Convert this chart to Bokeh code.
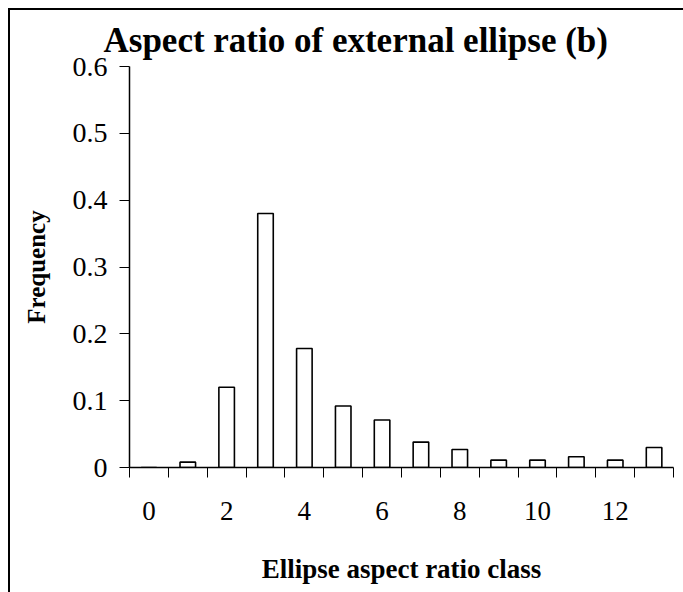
from bokeh.plotting import figure
from bokeh.models import Range1d, FixedTicker, ColumnDataSource
from bokeh.embed import file_html
from bokeh.resources import INLINE

# Data
classes = [0, 1, 2, 3, 4, 5, 6, 7, 8, 9, 10, 11, 12, 13]
frequency = [0.0, 0.008, 0.12, 0.38, 0.178, 0.092, 0.071, 0.038, 0.027, 0.011, 0.011, 0.016, 0.011, 0.03]
x_label_ticks = [0, 2, 4, 6, 8, 10, 12]
y_ticks = [0, 0.1, 0.2, 0.3, 0.4, 0.5, 0.6]

FONT = "Liberation Serif"

p = figure(width=683, height=592, output_backend="svg", toolbar_location=None,
           x_range=Range1d(-0.5, 13.5), y_range=Range1d(0, 0.6),
           min_border_left=129, min_border_right=10, min_border_top=66, min_border_bottom=125)

# Chart-box edge (left and top) painted as the figure's CSS background; canvas kept transparent
p.styles = {"background": "linear-gradient(#000, #000) 8px 8px / 2px 100% no-repeat, "
                          "linear-gradient(#000, #000) 8px 8px / 100% 2px no-repeat, #ffffff"}
p.background_fill_color = None
p.border_fill_color = None
p.outline_line_color = None
p.grid.visible = False

src = ColumnDataSource(dict(x=classes, top=frequency))
p.vbar(x="x", top="top", width=0.4, source=src, fill_color="white",
       line_color="black", line_width=1.6)

# Title
p.title.text = "Aspect ratio of external ellipse (b)"
p.title.text_font = FONT
p.title.text_font_style = "bold"
p.title.text_font_size = "35px"
p.title.text_color = "black"
p.title.align = "left"
p.title.offset = -26
p.title.standoff = 14

# X axis
xa = p.xaxis[0]
xa.ticker = FixedTicker(ticks=x_label_ticks, minor_ticks=[c - 0.5 for c in classes] + [classes[-1] + 0.5])
xa.major_tick_out = 0
xa.major_tick_in = 0
xa.minor_tick_out = 10
xa.minor_tick_in = 0
xa.minor_tick_line_color = "black"
xa.minor_tick_line_width = 1
xa.axis_line_color = "black"
xa.axis_line_width = 1.5
xa.major_label_text_font = FONT
xa.major_label_text_font_size = "27px"
xa.major_label_text_color = "black"
xa.major_label_standoff = 24
xa.axis_label = "Ellipse aspect ratio class"
xa.axis_label_text_font = FONT
xa.axis_label_text_font_style = "bold"
xa.axis_label_text_font_size = "27px"
xa.axis_label_text_color = "black"
xa.axis_label_standoff = 31

# Y axis
ya = p.yaxis[0]
ya.ticker = FixedTicker(ticks=y_ticks, minor_ticks=[])
ya.major_label_overrides = {0: "0"}
ya.major_tick_out = 10
ya.major_tick_in = 0
ya.major_tick_line_color = "black"
ya.axis_line_color = "black"
ya.axis_line_width = 1.5
ya.major_label_text_font = FONT
ya.major_label_text_font_size = "28px"
ya.major_label_text_color = "black"
ya.major_label_standoff = 12
ya.axis_label = "Frequency"
ya.axis_label_text_font = FONT
ya.axis_label_text_font_style = "bold"
ya.axis_label_text_font_size = "25px"
ya.axis_label_text_color = "black"
ya.axis_label_standoff = 20

open("out.html", "w").write(file_html(p, INLINE))
